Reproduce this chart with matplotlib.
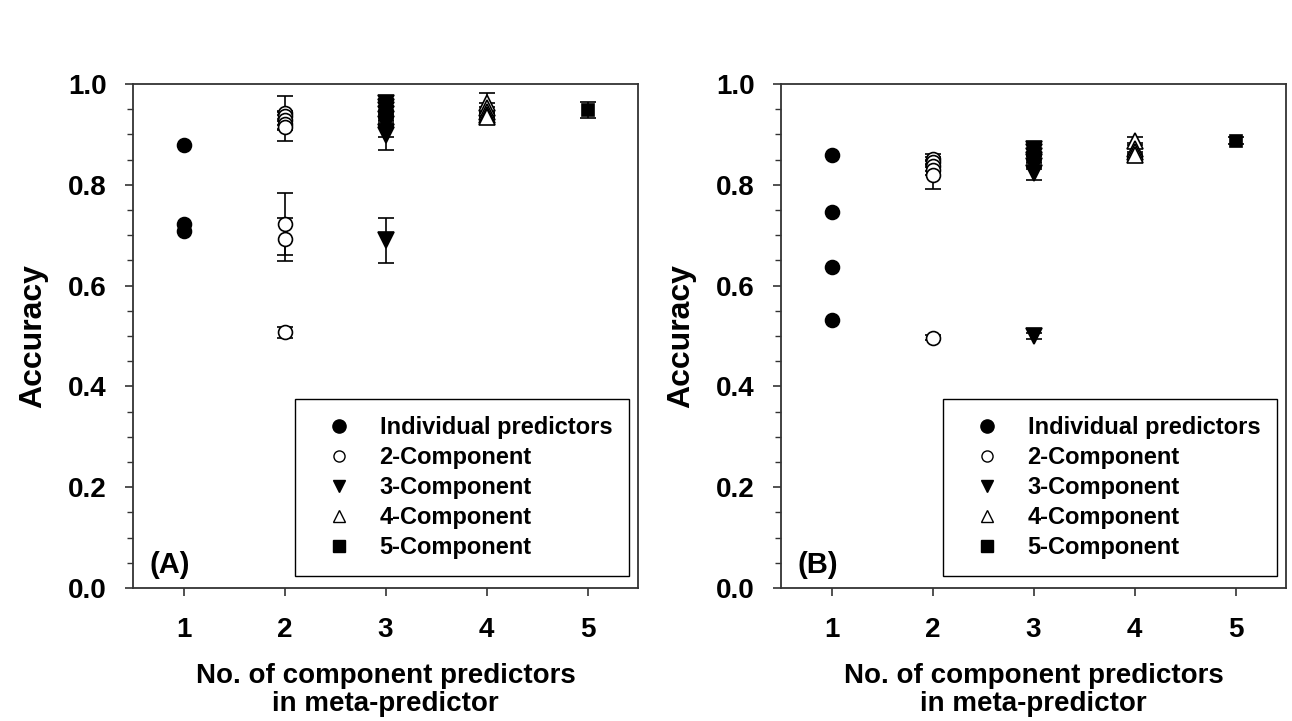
"""
Accuracy of individual predictors and meta-predictors, panels (A) and (B).
"""
import matplotlib
matplotlib.use("Agg")
import matplotlib.pyplot as plt
from matplotlib.lines import Line2D
from matplotlib.ticker import MultipleLocator

plt.rcParams["font.family"] = ["Liberation Sans", "DejaVu Sans"]
plt.rcParams["font.weight"] = "bold"

SERIES = ["Individual predictors", "2-Component", "3-Component",
          "4-Component", "5-Component"]
N_COMPONENTS = [1, 2, 3, 4, 5]

# panel A: accuracy and error for each combination
a_ind = [0.879, 0.722, 0.709]
a_ind_err = [0.0, 0.0, 0.0]
a_two = [0.943, 0.936, 0.928, 0.920, 0.915, 0.722, 0.692, 0.507]
a_two_err = [0.034, 0.010, 0.010, 0.010, 0.029, 0.062, 0.043, 0.010]
a_three = [0.963, 0.955, 0.948, 0.940, 0.930, 0.920, 0.905, 0.898, 0.690]
a_three_err = [0.008, 0.008, 0.008, 0.008, 0.008, 0.008, 0.010, 0.029, 0.045]
a_four = [0.962, 0.952, 0.945, 0.938, 0.935]
a_four_err = [0.020, 0.010, 0.010, 0.006, 0.005]
a_five = [0.948]
a_five_err = [0.016]

# panel B
b_ind = [0.860, 0.747, 0.636, 0.532]
b_ind_err = [0.0, 0.0, 0.0, 0.0]
b_two = [0.852, 0.845, 0.838, 0.830, 0.820, 0.497]
b_two_err = [0.010, 0.010, 0.010, 0.010, 0.029, 0.004]
b_three = [0.872, 0.865, 0.857, 0.850, 0.845, 0.838, 0.823, 0.500]
b_three_err = [0.007, 0.007, 0.007, 0.007, 0.007, 0.007, 0.013, 0.005]
b_four = [0.886, 0.872, 0.865, 0.860]
b_four_err = [0.008, 0.010, 0.008, 0.006]
b_five = [0.887]
b_five_err = [0.007]

PANEL_A = [(a_ind, a_ind_err), (a_two, a_two_err), (a_three, a_three_err),
           (a_four, a_four_err), (a_five, a_five_err)]
PANEL_B = [(b_ind, b_ind_err), (b_two, b_two_err), (b_three, b_three_err),
           (b_four, b_four_err), (b_five, b_five_err)]

STYLES = [
    dict(marker="o", mfc="black", ms=10),
    dict(marker="o", mfc="white", ms=10),
    dict(marker="v", mfc="black", ms=11),
    dict(marker="^", mfc="white", ms=11),
    dict(marker="s", mfc="black", ms=9),
]
LEGEND_MS = [9.5, 8, 9, 9, 8]


def draw_panel(ax, data, tag):
    for n, (vals, errs), st in zip(N_COMPONENTS, data, STYLES):
        xs = [n] * len(vals)
        has_err = any(e > 0 for e in errs)
        ax.errorbar(xs, vals, yerr=errs if has_err else None, fmt="none",
                    ecolor="black", elinewidth=1.2, capsize=6, capthick=1.2,
                    zorder=2)
        ax.plot(xs, vals, linestyle="none", marker=st["marker"],
                markersize=st["ms"], markerfacecolor=st["mfc"],
                markeredgecolor="black", markeredgewidth=1.2, zorder=3)

    ax.set_xlim(0.5, 5.5)
    ax.set_ylim(0.0, 1.0)
    ax.set_xticks(N_COMPONENTS)
    ax.yaxis.set_major_locator(MultipleLocator(0.2))
    ax.yaxis.set_minor_locator(MultipleLocator(0.05))
    ax.yaxis.set_major_formatter(plt.FuncFormatter(lambda v, p: f"{v:.1f}"))
    ax.tick_params(axis="both", which="major", direction="out", length=6,
                   width=1.2, labelsize=20, color="#333333")
    ax.tick_params(axis="x", pad=15)
    ax.tick_params(axis="y", pad=13)
    ax.tick_params(axis="y", which="minor", direction="out", length=4,
                   width=1.0, color="#333333")
    for s in ax.spines.values():
        s.set_linewidth(1.3)
        s.set_color("#333333")

    ax.set_ylabel("Accuracy", fontsize=23, fontweight="bold", labelpad=14)
    ax.set_xlabel("No. of component predictors\nin meta-predictor",
                  fontsize=20, fontweight="bold", labelpad=14,
                  linespacing=1.12)
    ax.text(0.033, 0.018, tag, transform=ax.transAxes, fontsize=21,
            fontweight="bold", ha="left", va="bottom")

    handles = [Line2D([], [], linestyle="none", marker=st["marker"],
                      markersize=ms, markerfacecolor=st["mfc"],
                      markeredgecolor="black", markeredgewidth=1.0)
               for st, ms in zip(STYLES, LEGEND_MS)]
    leg = ax.legend(handles, SERIES, loc="lower right",
                    bbox_to_anchor=(0.982, 0.024), frameon=True,
                    fancybox=False, edgecolor="black", framealpha=1,
                    prop=dict(size=17, weight="bold"), borderpad=0.71,
                    labelspacing=0.3, handlelength=2.3, handletextpad=0.55,
                    borderaxespad=0)
    leg.get_frame().set_linewidth(1.0)


fig = plt.figure(figsize=(12.92, 7.21), dpi=100)
ax_a = fig.add_axes([133 / 1292, 133 / 721, 505 / 1292, 504 / 721])
ax_b = fig.add_axes([781 / 1292, 133 / 721, 505 / 1292, 504 / 721])

draw_panel(ax_a, PANEL_A, "(A)")
draw_panel(ax_b, PANEL_B, "(B)")

fig.savefig("out.png", dpi=100)
